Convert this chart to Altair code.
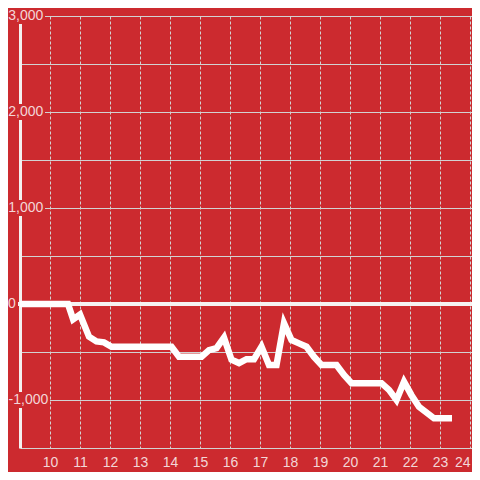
import altair as alt
import pandas as pd

# Hours of the day and values
hours = [9.0, 10.6, 10.77, 11.0, 11.3, 11.55, 11.8, 12.05, 14.05, 14.3, 15.05, 15.3,
         15.55, 15.8, 16.05, 16.3, 16.55, 16.8, 17.05, 17.3, 17.55, 17.8, 18.05, 18.3,
         18.55, 18.8, 19.05, 19.55, 19.8, 20.05, 21.05, 21.3, 21.55, 21.8, 22.05, 22.3,
         22.8, 23.4]
values = [0, 0, -160, -110, -340, -390, -400, -445, -445, -550, -550, -480,
          -460, -350, -580, -615, -575, -575, -445, -635, -635, -200, -375, -410,
          -445, -550, -635, -635, -740, -825, -825, -895, -1000, -810, -950, -1070,
          -1190, -1190]

x_ticks = list(range(10, 25))
y_grid = [-1500, -1000, -500, 0, 500, 1000, 1500, 2000, 2500, 3000]
y_pos_labels = [3000, 2000, 1000]
y_pos_text = ["3,000", "2,000", "1,000"]
y_neg_labels = [-1000]
y_neg_text = ["-1,000"]
y_zero_labels = [0]
y_zero_text = ["0"]

RED = "#cc2a2f"
LABEL = "#f3d6d7"
GRID = "#d2d2d2"
W, H = 452, 432

df = pd.DataFrame({"h": hours, "v": values})
pos_df = pd.DataFrame({"v": y_pos_labels, "t": y_pos_text})
neg_df = pd.DataFrame({"v": y_neg_labels, "t": y_neg_text})
zero_df = pd.DataFrame({"v": y_zero_labels, "t": y_zero_text})

xscale = alt.Scale(domain=[9, 9 + W / 30], nice=False, zero=False)
yscale = alt.Scale(domain=[-1500, 3000], nice=False)

x_axis = alt.Axis(values=x_ticks, grid=True, gridDash=[3, 2], gridColor=GRID,
                  gridWidth=1, domain=False, ticks=False, labelColor=LABEL,
                  labelFontSize=14, labelFont="Liberation Sans", labelPadding=7,
                  title=None, labelFlush=5)
y_axis = alt.Axis(values=y_grid, grid=True, gridColor=GRID, gridWidth=1,
                  domain=True, domainColor="#f4f0f0", domainWidth=3, ticks=False,
                  labels=False, title=None)

line = alt.Chart(df).mark_line(color="white", strokeWidth=6.5, strokeJoin="miter",
                               strokeCap="butt").encode(
    x=alt.X("h:Q", scale=xscale, axis=x_axis),
    y=alt.Y("v:Q", scale=yscale, axis=y_axis),
)

zero = alt.Chart(df).mark_rule(color="#f6f2f2", strokeWidth=3.7).encode(
    y=alt.datum(0, scale=yscale), x=alt.value(-2), x2=alt.value(W)
)


def label_layer(data, x_right, bg_right):
    bg = alt.Chart(data).mark_rule(color=RED, strokeWidth=16, strokeCap="butt").encode(
        y=alt.Y("v:Q", scale=yscale), x=alt.value(-12), x2=alt.value(bg_right)
    )
    txt = alt.Chart(data).mark_text(align="right", baseline="middle", fontSize=14,
                                    font="Liberation Sans", color=LABEL).encode(
        y=alt.Y("v:Q", scale=yscale), x=alt.value(x_right), text="t:N"
    )
    return bg, txt


bg1, t1 = label_layer(pos_df, 23.3, 25)
bg2, t2 = label_layer(neg_df, 28.3, 30)

txt0 = alt.Chart(zero_df).mark_text(align="right", baseline="middle", fontSize=14,
                                    font="Liberation Sans", color=LABEL).encode(
    y=alt.Y("v:Q", scale=yscale), x=alt.value(-4.3), text="t:N"
)

chart = alt.layer(zero, line, bg1, bg2, t1, t2, txt0).properties(
    width=W, height=H,
    autosize=alt.AutoSizeParams(type="none"),
    padding={"left": 12, "top": 8, "right": 0, "bottom": 24},
    background=RED,
).configure_view(stroke=None)

chart.save("out.html", embed_options={"renderer": "svg", "actions": False})
